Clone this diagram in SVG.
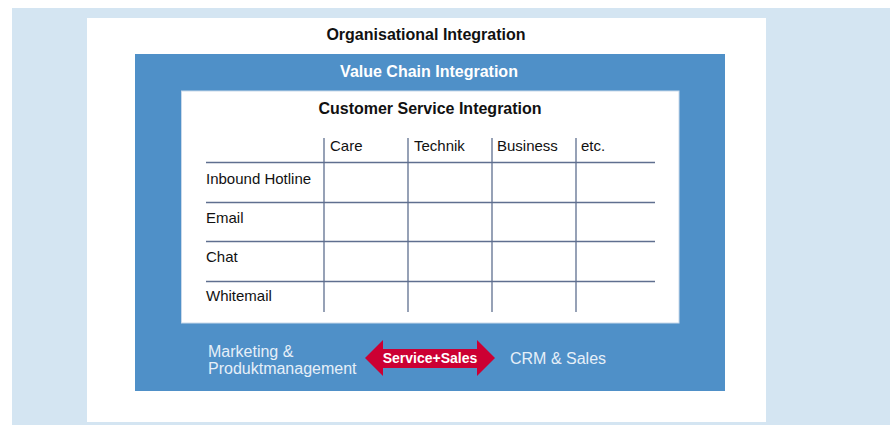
<svg xmlns="http://www.w3.org/2000/svg" width="890" height="425" viewBox="0 0 890 425">
  <style>
    text { font-family: "Liberation Sans", Arial, sans-serif; }
    .title { font-size: 16px; font-weight: bold; fill: #111; text-anchor: middle; }
    .band { font-size: 16px; font-weight: bold; fill: #ffffff; text-anchor: middle; }
    .cell { font-size: 15px; fill: #111; }
    .side { font-size: 16px; fill: #e6eff8; }
    .grid line { stroke: #5f6f8f; stroke-width: 1.3; }
  </style>

  <!-- page background and white panel -->
  <rect x="12" y="8" width="878" height="417" fill="#d4e5f2"/>
  <rect x="87" y="18" width="679" height="404" fill="#ffffff"/>

  <g id="organisational">
    <text class="title" x="426" y="40">Organisational Integration</text>
  </g>

  <g id="value-chain">
    <rect x="135" y="54" width="590" height="337" fill="#4f90c8"/>
    <text class="band" x="429" y="77">Value Chain Integration</text>
  </g>

  <g id="customer-service">
    <rect x="181.5" y="91" width="497.5" height="232" fill="#ffffff" stroke="#c9d9ea" stroke-width="1"/>
    <text class="title" x="430" y="114">Customer Service Integration</text>

    <!-- matrix grid -->
    <g class="grid">
      <line x1="206" y1="162.5" x2="655" y2="162.5"/>
      <line x1="206" y1="202.5" x2="655" y2="202.5"/>
      <line x1="206" y1="241.5" x2="655" y2="241.5"/>
      <line x1="206" y1="281.5" x2="655" y2="281.5"/>
      <line x1="324" y1="138" x2="324" y2="312"/>
      <line x1="408" y1="138" x2="408" y2="312"/>
      <line x1="492" y1="138" x2="492" y2="312"/>
      <line x1="576" y1="138" x2="576" y2="312"/>
    </g>

    <text class="cell" x="330" y="151">Care</text>
    <text class="cell" x="414" y="151">Technik</text>
    <text class="cell" x="497" y="151">Business</text>
    <text class="cell" x="581" y="151">etc.</text>

    <text class="cell" x="206" y="184">Inbound Hotline</text>
    <text class="cell" x="206" y="223">Email</text>
    <text class="cell" x="206" y="262">Chat</text>
    <text class="cell" x="206" y="301">Whitemail</text>
  </g>

  <g id="marketing">
    <text class="side" x="208" y="357">Marketing &amp;</text>
    <text class="side" x="208" y="374">Produktmanagement</text>
  </g>

  <g id="crm-sales">
    <text class="side" x="510" y="364">CRM &amp; Sales</text>
  </g>

  <g id="connectors">
    <polygon points="365,358 383,340 383,349 477,349 477,340 495,358 477,376 477,368 383,368 383,376" fill="#cc0033"/>
    <text x="430" y="363" font-size="14" font-weight="bold" fill="#ffffff" text-anchor="middle">Service+Sales</text>
  </g>
</svg>
